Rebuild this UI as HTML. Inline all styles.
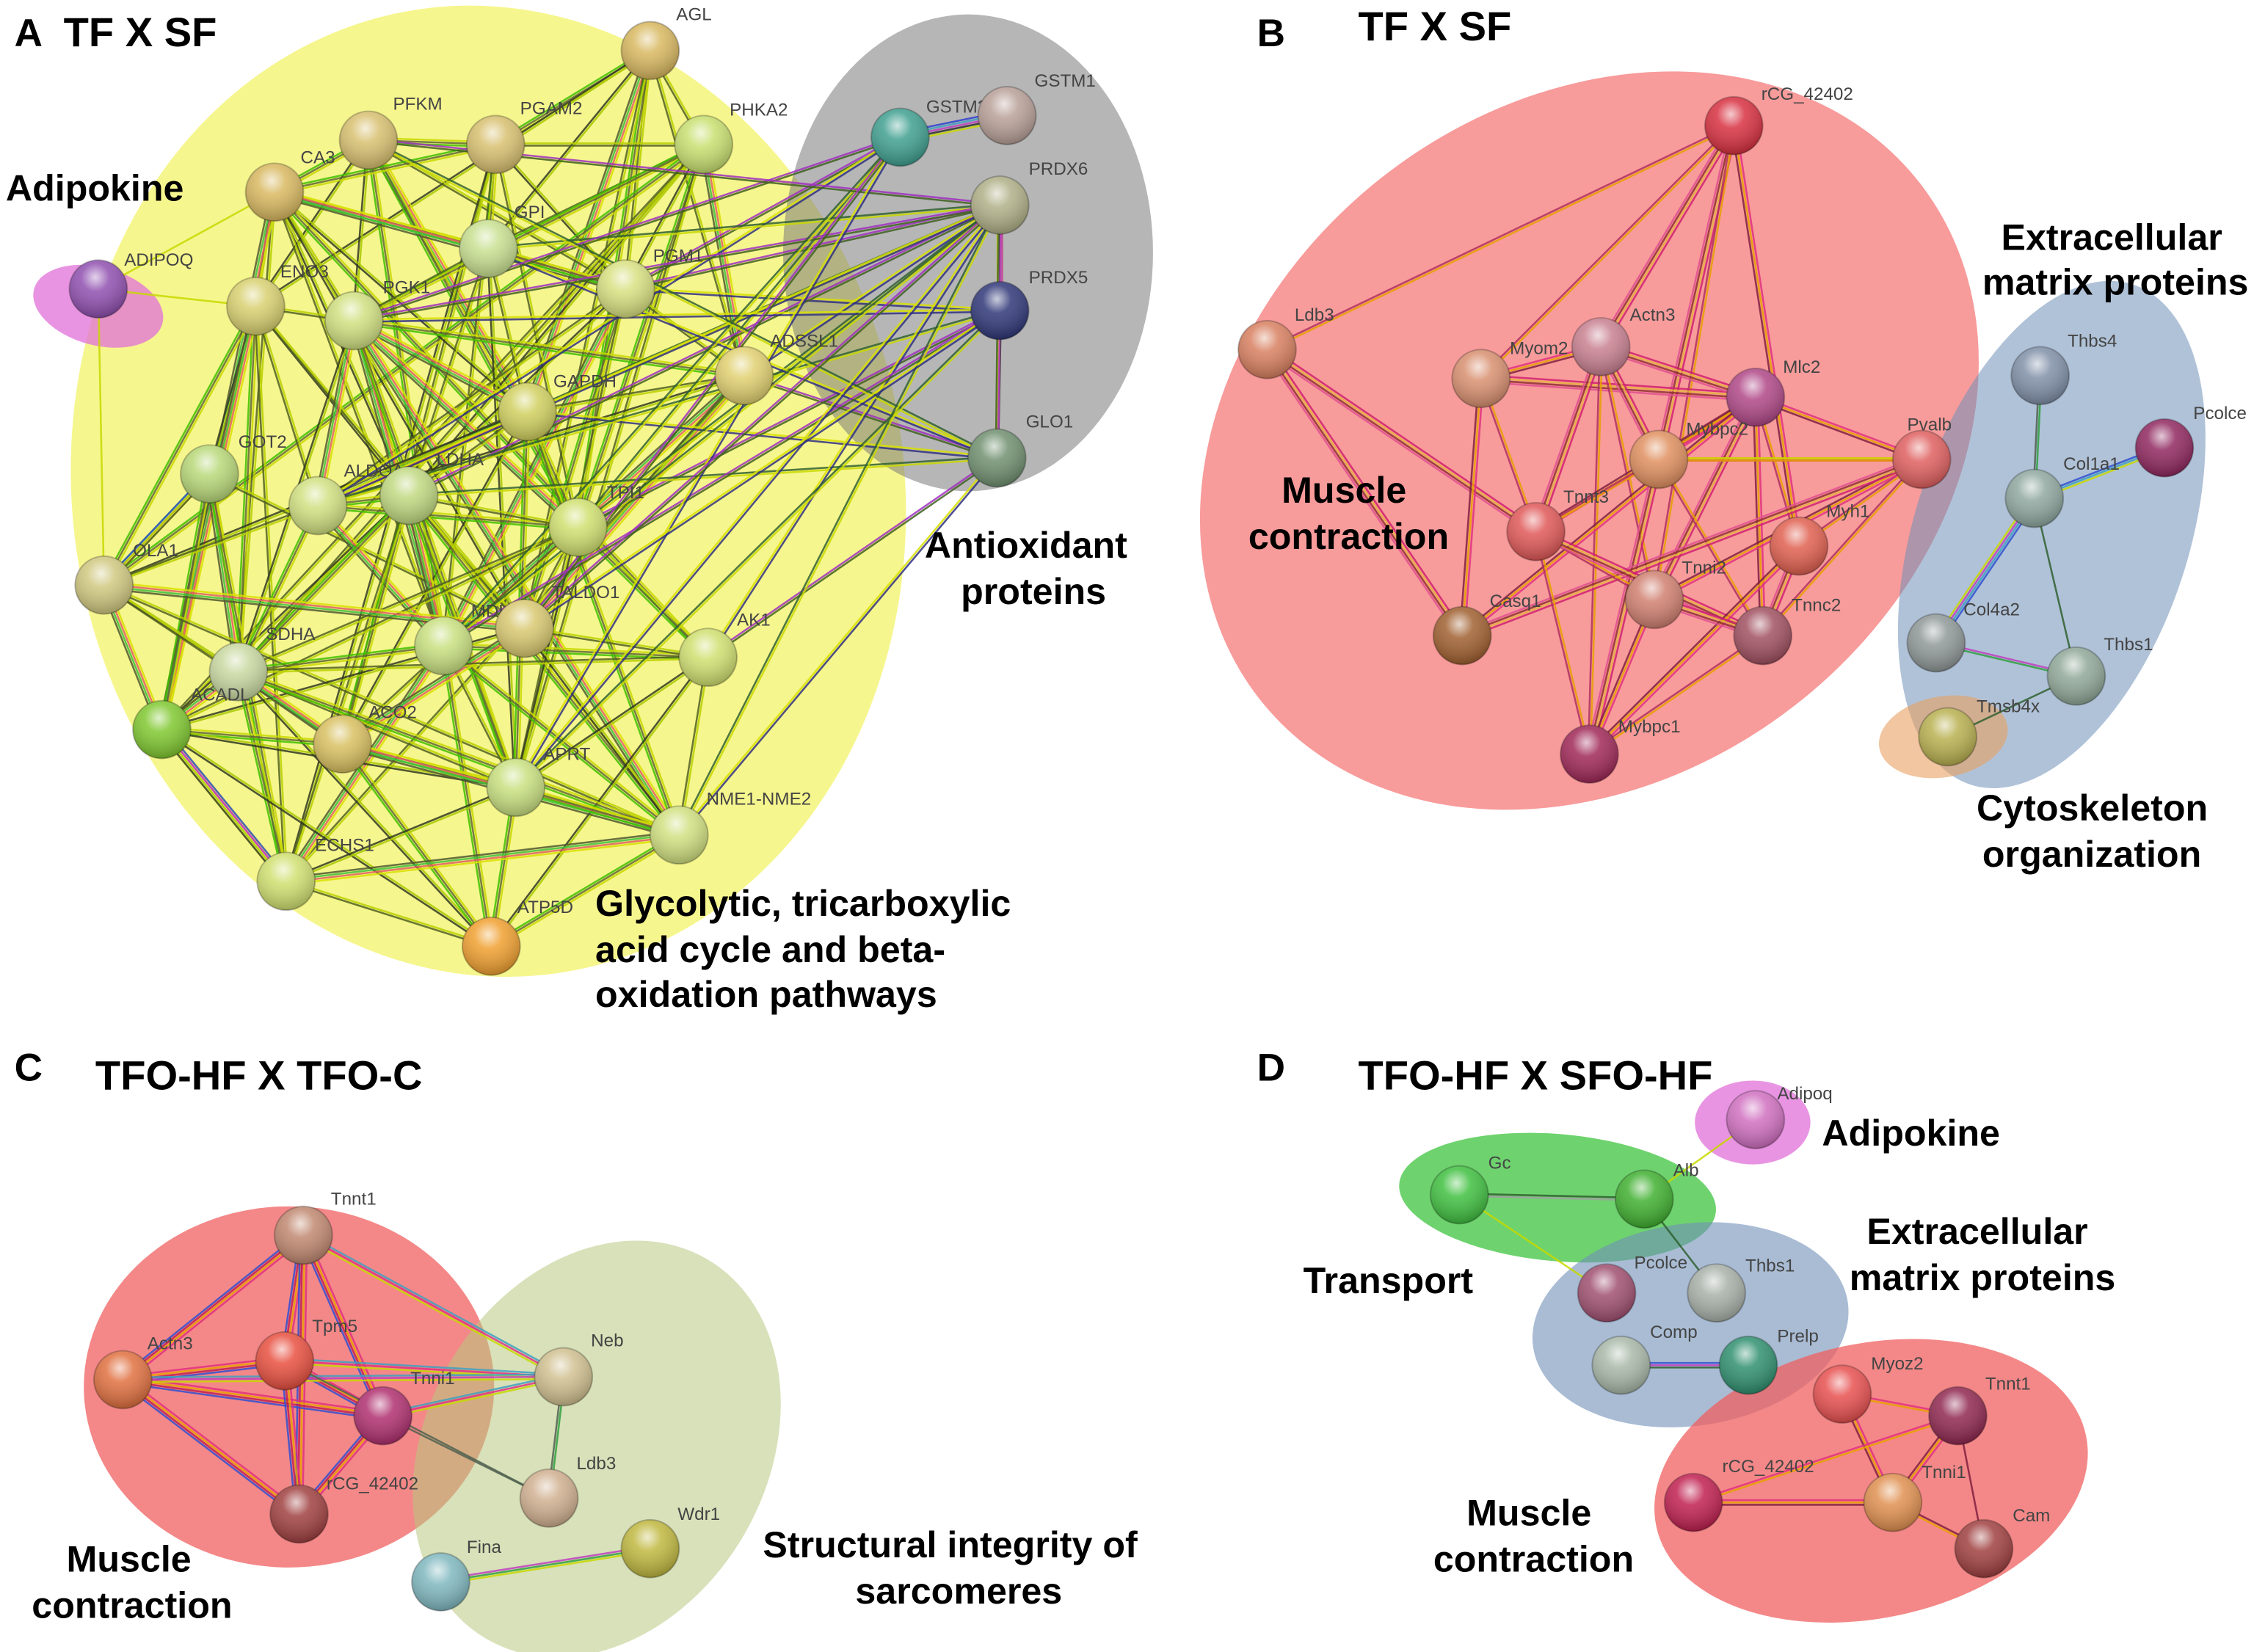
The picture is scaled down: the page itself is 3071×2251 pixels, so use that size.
<!DOCTYPE html>
<html><head><meta charset="utf-8">
<style>
html,body{margin:0;padding:0;background:#fff;}
svg{display:block;}
.t{font-family:"Liberation Sans",sans-serif;font-weight:bold;fill:#000;}
.n{font-family:"Liberation Sans",sans-serif;font-size:12.3px;fill:#444;}
</style></head>
<body>
<svg id="s" width="3071" height="2251" viewBox="0 0 1560 1143.5" preserveAspectRatio="none" xmlns="http://www.w3.org/2000/svg">
<defs>
<radialGradient id="hl" cx="45%" cy="30%" r="70%">
<stop offset="0" stop-color="#fff" stop-opacity="0.75"/>
<stop offset="0.35" stop-color="#fff" stop-opacity="0.15"/>
<stop offset="1" stop-color="#000" stop-opacity="0.25"/>
</radialGradient>
</defs>
<ellipse cx="338" cy="340" rx="288" ry="337" transform="rotate(-8 338 340)" fill="#f5f57a" opacity="0.85"/>
<ellipse cx="670" cy="175" rx="128" ry="165" fill="#7a7a7a" opacity="0.55"/>
<ellipse cx="68" cy="212" rx="46" ry="27" transform="rotate(15 68 212)" fill="#e070d8" opacity="0.75"/>

<ellipse cx="1100" cy="305" rx="290" ry="232" transform="rotate(-38 1100 305)" fill="#f57a7a" opacity="0.75"/>
<ellipse cx="1420" cy="370" rx="95" ry="182" transform="rotate(18 1420 370)" fill="#7090b8" opacity="0.55"/>
<ellipse cx="1345" cy="510" rx="45" ry="28" transform="rotate(-10 1345 510)" fill="#e8a060" opacity="0.6"/>

<ellipse cx="200" cy="960" rx="142" ry="125" fill="#f06060" opacity="0.75"/>
<ellipse cx="413" cy="1003" rx="118" ry="152" transform="rotate(30 413 1003)" fill="#b8c880" opacity="0.55"/>

<ellipse cx="1213" cy="777" rx="40" ry="29" fill="#e070d8" opacity="0.75"/>
<ellipse cx="1078" cy="829" rx="110" ry="44" transform="rotate(5 1078 829)" fill="#30c030" opacity="0.7"/>
<ellipse cx="1170" cy="917" rx="110" ry="70" transform="rotate(-8 1170 917)" fill="#7090b8" opacity="0.6"/>
<ellipse cx="1295" cy="1025" rx="152" ry="95" transform="rotate(-12 1295 1025)" fill="#f06060" opacity="0.75"/>

<g id="edges"></g>
<g id="nodes"></g>

<text class="t" x="10" y="32" font-size="27">A</text>
<text class="t" x="44" y="32" font-size="28.5">TF X SF</text>
<text class="t" x="870" y="32" font-size="27">B</text>
<text class="t" x="940" y="28" font-size="28.5">TF X SF</text>
<text class="t" x="10" y="748" font-size="27">C</text>
<text class="t" x="66" y="754" font-size="28.5">TFO-HF X TFO-C</text>
<text class="t" x="870" y="748" font-size="27">D</text>
<text class="t" x="940" y="754" font-size="28.5">TFO-HF X SFO-HF</text>

<text class="t" x="4" y="139" font-size="25.5">Adipokine</text>
<text class="t" x="640" y="386" font-size="25.5">Antioxidant</text>
<text class="t" x="665" y="418" font-size="25.5">proteins</text>
<text class="t" x="412" y="634" font-size="25.5">Glycolytic, tricarboxylic</text>
<text class="t" x="412" y="666" font-size="25.5">acid cycle and beta-</text>
<text class="t" x="412" y="697" font-size="25.5">oxidation pathways</text>

<text class="t" x="1385" y="173" font-size="25.5">Extracellular</text>
<text class="t" x="1372" y="204" font-size="25.5">matrix proteins</text>
<text class="t" x="887" y="348" font-size="25.5">Muscle</text>
<text class="t" x="864" y="380" font-size="25.5">contraction</text>
<text class="t" x="1368" y="568" font-size="25.5">Cytoskeleton</text>
<text class="t" x="1372" y="600" font-size="25.5">organization</text>

<text class="t" x="46" y="1088" font-size="25.5">Muscle</text>
<text class="t" x="22" y="1120" font-size="25.5">contraction</text>
<text class="t" x="528" y="1078" font-size="25.5">Structural integrity of</text>
<text class="t" x="592" y="1110" font-size="25.5">sarcomeres</text>

<text class="t" x="1261" y="793" font-size="25.5">Adipokine</text>
<text class="t" x="1292" y="861" font-size="25.5">Extracellular</text>
<text class="t" x="1280" y="893" font-size="25.5">matrix proteins</text>
<text class="t" x="902" y="895" font-size="25.5">Transport</text>
<text class="t" x="1015" y="1056" font-size="25.5">Muscle</text>
<text class="t" x="992" y="1088" font-size="25.5">contraction</text>
</svg>
<script>
var NS="http://www.w3.org/2000/svg";
var N={};
function nd(id,x,y,c,lab,lx,ly){N[id]={x:x,y:y,c:c,lab:lab,lx:lx,ly:ly};}
nd("AGL",450,35,"#d8b860","AGL",468,14);
nd("PFKM",255,97,"#d8c070","PFKM",272,76);
nd("PGAM2",343,100,"#d8c070","PGAM2",360,79);
nd("PHKA2",487,100,"#c8e070","PHKA2",505,80);
nd("CA3",190,133,"#d8b860","CA3",208,113);
nd("GPI",338,172,"#c8e090","GPI",356,151);
nd("PGM1",433,200,"#d8e080","PGM1",452,181);
nd("ENO3",177,212,"#d8d070","ENO3",194,192);
nd("PGK1",245,222,"#d0e080","PGK1",265,203);
nd("ADSSL1",515,260,"#e0d070","ADSSL1",533,240);
nd("GAPDH",365,285,"#d0d060","GAPDH",383,268);
nd("GOT2",145,328,"#b8d878","GOT2",165,310);
nd("ALDOA",220,350,"#d0e080","ALDOA",238,330);
nd("LDHA",283,343,"#c0d880","LDHA",302,322);
nd("TPI1",400,365,"#d0e070","TPI1",420,345);
nd("OLA1",72,405,"#d0c880","OLA1",92,385);
nd("MDH1",307,447,"#c8e080","MDH1",326,427);
nd("TALDO1",363,435,"#d8c870","TALDO1",382,414);
nd("AK1",490,455,"#d0e070","AK1",510,433);
nd("SDHA",165,465,"#c8d8a0","SDHA",184,443);
nd("ACADL",112,505,"#80c830","ACADL",132,485);
nd("ACO2",237,515,"#d8c060","ACO2",255,497);
nd("APRT",357,545,"#c8e080","APRT",376,526);
nd("NME1",470,578,"#d0e080","NME1-NME2",489,557);
nd("ECHS1",198,610,"#d0e070","ECHS1",218,589);
nd("ATP5D",340,655,"#f0a030","ATP5D",358,632);
nd("GSTM2",623,95,"#40a090","GSTM2",641,78);
nd("GSTM1",697,80,"#b8a098","GSTM1",716,60);
nd("PRDX6",692,142,"#b0b088","PRDX6",712,121);
nd("PRDX5",692,215,"#303878","PRDX5",712,196);
nd("GLO1",690,317,"#709070","GLO1",710,296);
nd("ADIPOQ",68,200,"#9050b0","ADIPOQ",86,184);
nd("rCG",1200,87,"#d83040","rCG_42402",1219,69);
nd("Ldb3",877,242,"#d88060","Ldb3",896,222);
nd("Myom2",1025,262,"#d89070","Myom2",1045,245);
nd("Actn3",1108,240,"#c88090","Actn3",1128,222);
nd("Mlc2",1215,275,"#b04888","Mlc2",1234,258);
nd("Mybpc2",1148,318,"#e09060","Mybpc2",1167,301);
nd("Pvalb",1330,318,"#e06060","Pvalb",1320,298);
nd("Tnnt3",1063,368,"#e05858","Tnnt3",1082,348);
nd("Myh1",1245,378,"#e06050","Myh1",1264,358);
nd("Tnni2",1145,415,"#d08070","Tnni2",1164,397);
nd("Tnnc2",1220,440,"#a05060","Tnnc2",1240,423);
nd("Casq1",1012,440,"#a06030","Casq1",1031,420);
nd("Mybpc1",1100,522,"#a02858","Mybpc1",1120,507);
nd("Thbs4",1412,260,"#8090a8","Thbs4",1431,240);
nd("Pcolce",1498,310,"#902860","Pcolce",1518,290);
nd("Col1a1",1408,345,"#90a8a0","Col1a1",1428,325);
nd("Col4a2",1340,445,"#909898","Col4a2",1359,426);
nd("Thbs1",1437,468,"#90a898","Thbs1",1456,450);
nd("Tmsb4x",1348,510,"#b8b050","Tmsb4x",1368,493);
nd("cTnnt1",210,855,"#c08870","Tnnt1",229,834);
nd("cActn3",85,955,"#e07040","Actn3",102,934);
nd("cTpm5",197,942,"#e85040","Tpm5",216,922);
nd("cTnni1",265,980,"#b03070","Tnni1",284,958);
nd("crCG",207,1048,"#a04040","rCG_42402",226,1031);
nd("cNeb",390,953,"#d0c090","Neb",409,932);
nd("cLdb3",380,1037,"#d0b090","Ldb3",399,1017);
nd("cFina",305,1095,"#80b8c0","Fina",323,1075);
nd("cWdr1",450,1072,"#c0b840","Wdr1",469,1052);
nd("dAdipoq",1215,775,"#d070c0","Adipoq",1230,761);
nd("dGc",1010,827,"#40c040","Gc",1030,809);
nd("dAlb",1138,830,"#40b030","Alb",1158,814);
nd("dPcolce",1112,895,"#a05070","Pcolce",1131,878);
nd("dThbs1",1188,895,"#a8b0a8","Thbs1",1208,880);
nd("dComp",1122,945,"#a8b8a8","Comp",1142,926);
nd("dPrelp",1210,945,"#309070","Prelp",1230,929);
nd("dMyoz2",1275,965,"#e85050","Myoz2",1295,948);
nd("dTnnt1",1355,980,"#902850","Tnnt1",1374,962);
nd("drCG",1172,1040,"#c02050","rCG_42402",1192,1019);
nd("dTnni1",1310,1040,"#e09050","Tnni1",1330,1023);
nd("dCam",1373,1072,"#a04040","Cam",1393,1053);

var eg=document.getElementById("edges");
function line(a,b,col,off,w){
 var A=N[a],B=N[b];var dx=B.x-A.x,dy=B.y-A.y,L=Math.sqrt(dx*dx+dy*dy)||1;
 var ox=-dy/L*off,oy=dx/L*off;
 var l=document.createElementNS(NS,"line");
 l.setAttribute("x1",A.x+ox);l.setAttribute("y1",A.y+oy);l.setAttribute("x2",B.x+ox);l.setAttribute("y2",B.y+oy);
 l.setAttribute("stroke",col);l.setAttribute("stroke-width",w||1.3);l.setAttribute("stroke-opacity","0.85");eg.appendChild(l);
}
function edge(a,b,cols){cols=cols||["#b8d000","#506020"];var n=cols.length;for(var i=0;i<n;i++)line(a,b,cols[i],(i-(n-1)/2)*1.6);}
var glyc=["AGL","PFKM","PGAM2","PHKA2","CA3","GPI","PGM1","ENO3","PGK1","ADSSL1","GAPDH","GOT2","ALDOA","LDHA","TPI1","OLA1","MDH1","TALDO1","AK1","SDHA","ACADL","ACO2","APRT","NME1","ECHS1","ATP5D"];
var pal=[["#c8d800","#606830","#40c000"],["#b8d000","#506020"],["#d8e000","#e06060","#40c040","#505830"],["#a8c800","#303820"]];
var seed=7;function rnd(){seed=(seed*9301+49297)%233280;return seed/233280;}
for(var i=0;i<glyc.length;i++)for(var j=i+1;j<glyc.length;j++){
 var A=N[glyc[i]],B=N[glyc[j]];var d=Math.hypot(A.x-B.x,A.y-B.y);
 var p=d<200?0.75:(d<350?0.4:0.15);
 if(rnd()<p) edge(glyc[i],glyc[j],pal[Math.floor(rnd()*4)]);
}
var ox=["PRDX6","PRDX5","GLO1","GSTM2"];
["GAPDH","PGM1","ADSSL1","TPI1","LDHA","ALDOA","GPI","PGK1","AK1","MDH1","PFKM","APRT","NME1","TALDO1"].forEach(function(g,k){ox.forEach(function(o,m){if((k+m)%2==0||o=="PRDX6")edge(g,o,[["#306030","#c8d800"],["#a030c0","#406020"],["#d8e000","#303080"]][(k+m)%3]);});});
edge("GSTM2","GSTM1",["#3040d0","#40a0c0","#c040c0","#303030","#c8d800"]);
edge("PRDX6","PRDX5",["#c04090","#303030","#c8d800"]);
edge("PRDX5","GLO1",["#303030","#c8d800"]);
edge("PRDX6","GLO1",["#c040c0","#406020"]);
edge("ADIPOQ","ENO3",["#c8d800"]);edge("ADIPOQ","OLA1",["#c8d800"]);edge("ADIPOQ","CA3",["#c8d800"]);
edge("ACADL","ECHS1",["#3050d0","#c040c0","#c8d800","#505820"]);
edge("OLA1","GOT2",["#3050d0","#c8d800","#505820"]);
var mus=["rCG","Ldb3","Myom2","Actn3","Mlc2","Mybpc2","Pvalb","Tnnt3","Myh1","Tnni2","Tnnc2","Casq1","Mybpc1"];
var bp=[["#e03080","#e8a000","#802040"],["#e8a000","#b03060"],["#d02070","#e8b040","#903030","#e05090"]];
for(var i=0;i<mus.length;i++)for(var j=i+1;j<mus.length;j++){
 var A=N[mus[i]],B=N[mus[j]];var d=Math.hypot(A.x-B.x,A.y-B.y);
 var p=d<180?0.8:0.35; if(mus[i]=="Ldb3"&&!(mus[j]=="Myom2"||mus[j]=="Actn3"||mus[j]=="Tnnt3"||mus[j]=="Casq1"))p=0;
 if(rnd()<p)edge(mus[i],mus[j],bp[Math.floor(rnd()*3)]);
}
edge("Thbs4","Col1a1",["#30a040","#506050"]);
edge("Col1a1","Pcolce",["#3050d0","#40a0c0","#c8d800"]);
edge("Col1a1","Col4a2",["#3050d0","#40a0c0","#c040c0","#c8d800"]);
edge("Col1a1","Thbs1",["#306030"]);
edge("Col4a2","Thbs1",["#c040c0","#30a040"]);
edge("Thbs1","Tmsb4x",["#306030"]);
edge("Pvalb","Mybpc2",["#e8a000","#c8d800"]);
var cm=["cTnnt1","cActn3","cTpm5","cTnni1","crCG"];
for(var i=0;i<cm.length;i++)for(var j=i+1;j<cm.length;j++)edge(cm[i],cm[j],["#e03080","#e8a000","#c02050","#3050d0"]);
edge("cTnnt1","cNeb",["#40a0c0","#e03080","#c8d800"]);
edge("cTpm5","cNeb",["#40a0c0","#e03080","#c8d800"]);
edge("cTnni1","cNeb",["#40a0c0","#e03080","#c8d800"]);
edge("cActn3","cNeb",["#40a0c0","#c040c0","#c8d800"]);
edge("cNeb","cLdb3",["#30a040","#506050"]);
edge("cTpm5","cLdb3",["#506050"]);edge("cTnni1","cLdb3",["#506050"]);
edge("cFina","cWdr1",["#c040c0","#30a040","#c8d800"]);
edge("dGc","dAlb",["#306030","#a0a0a0"]);
edge("dAdipoq","dAlb",["#c8d800"]);
edge("dGc","dPcolce",["#c8d800"]);
edge("dAlb","dThbs1",["#306030"]);
edge("dComp","dPrelp",["#3050d0","#c040c0","#306030"]);
edge("dMyoz2","dTnnt1",["#e03080","#e8a000"]);
edge("dMyoz2","dTnni1",["#e03080","#e8a000","#802040"]);
edge("dTnnt1","dTnni1",["#e03080","#e8a000","#802040"]);
edge("drCG","dTnni1",["#e03080","#e8a000","#802040"]);
edge("drCG","dTnnt1",["#e03080","#e8a000"]);
edge("dTnni1","dCam",["#802040","#e8a000"]);
edge("dTnnt1","dCam",["#802040"]);
var ng=document.getElementById("nodes");
for(var k in N){var o=N[k];
 var c=document.createElementNS(NS,"circle");c.setAttribute("cx",o.x);c.setAttribute("cy",o.y);c.setAttribute("r",20);c.setAttribute("fill",o.c);c.setAttribute("stroke","rgba(0,0,0,0.25)");ng.appendChild(c);
 var h=document.createElementNS(NS,"circle");h.setAttribute("cx",o.x);h.setAttribute("cy",o.y);h.setAttribute("r",20);h.setAttribute("fill","url(#hl)");ng.appendChild(h);
 var t=document.createElementNS(NS,"text");t.setAttribute("class","n");t.setAttribute("x",o.lx);t.setAttribute("y",o.ly);t.textContent=o.lab;ng.appendChild(t);
}
</script>
</body></html>
